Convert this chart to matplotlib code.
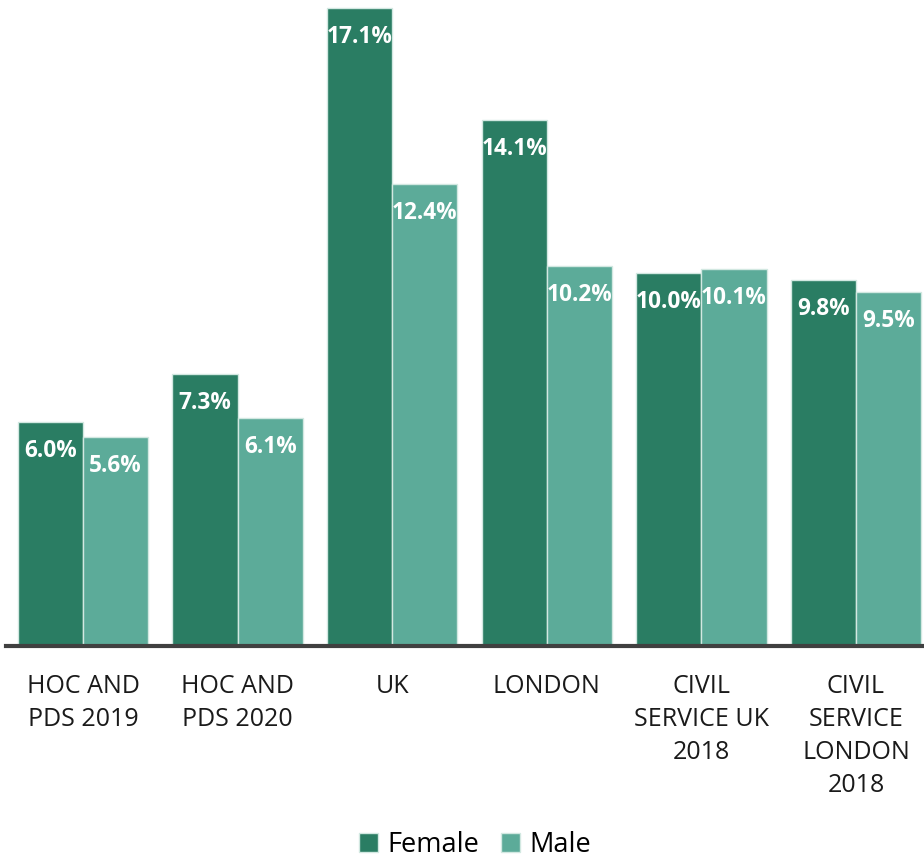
import matplotlib
matplotlib.use("Agg")
import matplotlib.pyplot as plt
import numpy as np

CATEGORIES = ["HOC AND\nPDS 2019", "HOC AND\nPDS 2020", "UK", "LONDON",
              "CIVIL\nSERVICE UK\n2018", "CIVIL\nSERVICE\nLONDON\n2018"]
FEMALE = [6.0, 7.3, 17.1, 14.1, 10.0, 9.8]
MALE = [5.6, 6.1, 12.4, 10.2, 10.1, 9.5]

F_COL = "#2a7d63"
M_COL = "#5cab99"
EDGE = "#d2e8e1"

plt.rcParams["font.family"] = ["Open Sans", "DejaVu Sans"]

fig = plt.figure(figsize=(9.24, 8.6), dpi=100, facecolor="white")
ax = fig.add_axes([6 / 924, 1 - 646 / 860, 918 / 924, 646 / 860])

x = np.arange(len(CATEGORIES))
w = 0.422
bf = ax.bar(x - w / 2, FEMALE, w, color=F_COL, edgecolor=EDGE, linewidth=1, label="Female")
bm = ax.bar(x + w / 2, MALE, w, color=M_COL, edgecolor=EDGE, linewidth=1, label="Male")

for bars, vals in ((bf, FEMALE), (bm, MALE)):
    for b, v in zip(bars, vals):
        ax.annotate(f"{v:.1f}%", xy=(b.get_x() + b.get_width() / 2, v),
                    xytext=(0, -29), textcoords="offset pixels",
                    ha="center", va="center", color="white",
                    fontsize=16.3, fontweight="bold")

ax.set_xlim(-0.498, 5.44)
ax.set_ylim(0, 17.32)
for s in ("top", "right", "left"):
    ax.spines[s].set_visible(False)
ax.spines["bottom"].set_color("#404040")
ax.spines["bottom"].set_linewidth(3)
ax.set_yticks([])
ax.set_xticks(x)
ax.set_xticklabels(CATEGORIES, fontsize=18, color="#1a1a1a", linespacing=1.42)
ax.tick_params(axis="x", length=0, pad=20)

fig.legend(handles=[bf, bm], labels=["Female", "Male"], loc="center",
           bbox_to_anchor=(0.514, 1 - 845 / 860), ncol=2, frameon=False,
           fontsize=19.5, handlelength=0.7, handleheight=0.7, handletextpad=0.35,
           columnspacing=0.8)

fig.savefig("out.png", dpi=100, facecolor="white")
